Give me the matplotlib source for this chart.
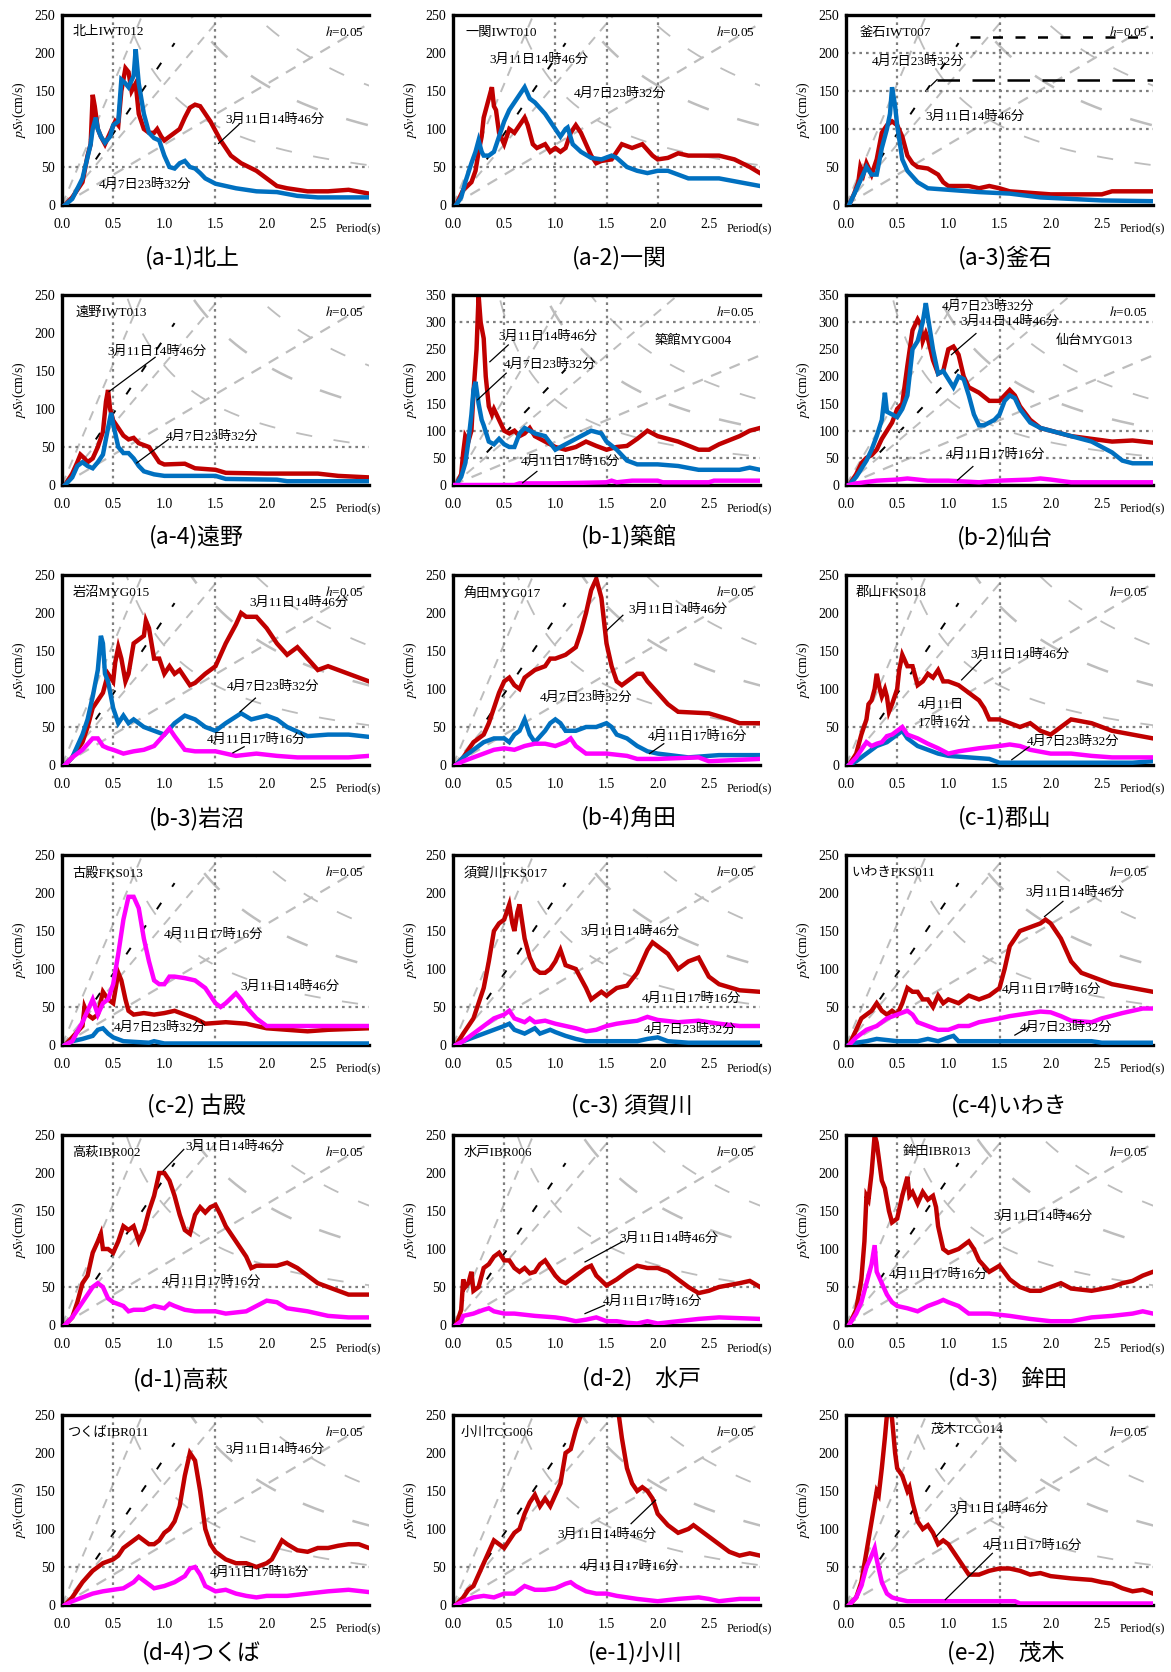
import matplotlib
matplotlib.use("Agg")
import matplotlib.pyplot as plt
import numpy as np

plt.rcParams['mathtext.fontset'] = 'stix'
SERIF = ['Liberation Serif', 'Noto Sans CJK JP']
CJK = ['Noto Sans CJK JP', 'Liberation Serif']

RED = '#C00000'; BLUE = '#0070C0'; MAG = '#FF00FF'
EV311 = '3月11日14時46分'; EV407 = '4月7日23時32分'; EV411 = '4月11日17時16分'

# ---------------- data (period s, pSv cm/s) ----------------
a1_t_r = [0.03,0.1,0.2,0.25,0.28,0.3,0.32,0.35,0.38,0.42,0.47,0.52,0.55,0.58,0.62,0.65,0.68,0.72,0.75,0.8,0.85,0.9,0.93,0.97,1.0,1.05,1.1,1.15,1.2,1.25,1.3,1.35,1.45,1.55,1.65,1.75,1.9,2.0,2.1,2.2,2.4,2.6,2.8,3.0]
a1_v_r = [0,10,30,65,80,145,130,100,90,80,95,110,105,150,180,175,150,160,120,100,95,95,100,90,85,90,95,100,115,128,132,130,110,85,65,55,45,35,25,22,18,18,20,15]
a1_t_b = [0.03,0.1,0.2,0.28,0.3,0.33,0.35,0.38,0.42,0.47,0.5,0.55,0.58,0.62,0.65,0.7,0.72,0.75,0.8,0.85,0.9,0.95,1.0,1.05,1.1,1.15,1.2,1.25,1.3,1.35,1.4,1.5,1.7,1.9,2.1,2.3,2.5,3.0]
a1_v_b = [0,8,35,80,100,115,100,90,82,90,105,110,165,160,155,170,205,160,120,95,88,85,65,50,48,55,58,50,48,42,35,28,22,18,17,12,10,10]

a2_t_r = [0.03,0.1,0.18,0.22,0.25,0.28,0.3,0.35,0.38,0.4,0.42,0.45,0.5,0.55,0.6,0.65,0.7,0.73,0.78,0.82,0.9,0.95,1.0,1.05,1.1,1.15,1.2,1.25,1.3,1.35,1.4,1.45,1.55,1.6,1.65,1.75,1.85,1.95,2.0,2.1,2.2,2.3,2.6,2.75,2.9,3.0]
a2_v_r = [0,20,30,45,70,90,115,140,155,130,125,95,80,100,95,105,115,105,80,75,80,70,75,70,75,95,105,95,80,65,55,58,60,70,80,75,80,65,60,62,68,65,65,60,50,42]
a2_t_b = [0.03,0.08,0.12,0.18,0.22,0.25,0.28,0.3,0.35,0.4,0.45,0.5,0.55,0.6,0.65,0.7,0.75,0.8,0.9,1.0,1.05,1.1,1.12,1.17,1.25,1.35,1.45,1.55,1.6,1.7,1.8,1.9,2.0,2.1,2.2,2.3,2.6,2.8,3.0]
a2_v_b = [0,10,30,55,70,85,70,65,65,70,90,110,125,135,145,155,140,135,120,100,90,100,102,80,70,62,60,65,62,50,45,42,45,45,40,35,35,30,25]

a3_t_r = [0.03,0.08,0.12,0.14,0.17,0.2,0.25,0.3,0.35,0.4,0.45,0.5,0.55,0.6,0.65,0.7,0.8,0.9,0.95,1.0,1.2,1.3,1.4,1.5,1.6,1.8,2.0,2.5,2.6,3.0]
a3_v_r = [0,15,30,50,40,55,40,60,95,105,110,105,90,65,55,50,48,40,30,25,25,22,25,22,18,16,14,14,18,18]
a3_t_b = [0.03,0.1,0.15,0.2,0.25,0.3,0.35,0.4,0.43,0.45,0.48,0.5,0.55,0.6,0.7,0.8,1.0,1.3,1.6,1.9,2.5,3.0]
a3_v_b = [0,20,35,50,40,40,75,100,120,155,130,105,60,45,30,22,20,17,15,10,6,5]

a4_t_r = [0.03,0.1,0.15,0.18,0.22,0.25,0.3,0.35,0.4,0.43,0.45,0.47,0.5,0.55,0.6,0.65,0.7,0.75,0.85,0.9,0.95,1.0,1.2,1.3,1.5,1.6,2.0,2.5,2.7,3.0]
a4_v_r = [0,15,30,40,35,30,35,50,70,110,125,100,85,75,65,60,62,55,50,40,30,27,28,22,20,16,15,15,12,10]
a4_t_b = [0.03,0.1,0.15,0.2,0.25,0.3,0.35,0.4,0.45,0.48,0.5,0.55,0.6,0.65,0.7,0.75,0.8,0.9,1.0,1.2,1.5,1.6,2.1,2.2,3.0]
a4_v_b = [0,10,25,30,25,22,30,40,75,95,80,50,42,42,35,25,18,14,12,12,12,8,7,5,5]

b1_t_r = [0.03,0.08,0.1,0.12,0.15,0.18,0.2,0.23,0.25,0.27,0.3,0.32,0.35,0.38,0.4,0.45,0.5,0.55,0.6,0.65,0.7,0.75,0.8,0.85,0.9,1.0,1.1,1.2,1.3,1.4,1.5,1.6,1.7,1.8,1.9,2.0,2.2,2.4,2.5,2.6,2.8,2.9,3.0]
b1_v_r = [0,20,60,90,80,100,170,250,350,300,270,200,145,130,140,120,100,95,100,90,95,105,90,85,80,70,65,70,80,72,65,70,72,85,100,90,80,65,65,75,90,100,105]
b1_t_b = [0.03,0.08,0.12,0.15,0.18,0.2,0.22,0.25,0.28,0.3,0.35,0.4,0.45,0.5,0.55,0.6,0.65,0.7,0.75,0.8,0.9,1.0,1.1,1.2,1.3,1.35,1.45,1.5,1.6,1.7,1.8,2.0,2.2,2.4,2.8,2.9,3.0]
b1_v_b = [0,15,40,80,130,175,190,150,120,110,80,75,85,75,70,70,95,105,100,95,90,65,75,85,95,100,95,80,65,45,38,38,35,28,28,32,28]
b1_t_m = [0.0,0.6,0.65,1.0,1.5,1.55,1.6,1.75,2.0,2.05,2.5,2.55,3.0]
b1_v_m = [0,0,3,3,5,8,5,8,8,5,5,8,8]

b2_t_r = [0.03,0.1,0.15,0.2,0.25,0.3,0.35,0.4,0.45,0.5,0.55,0.6,0.65,0.7,0.73,0.75,0.78,0.8,0.85,0.9,0.95,1.0,1.05,1.1,1.15,1.2,1.3,1.4,1.5,1.55,1.6,1.65,1.7,1.8,1.9,2.0,2.2,2.4,2.6,2.8,3.0]
b2_v_r = [0,20,40,50,55,65,85,100,115,140,150,220,285,305,295,265,280,270,230,205,210,250,255,240,200,180,170,155,155,165,175,165,145,120,105,100,90,85,80,82,78]
b2_t_b = [0.03,0.1,0.2,0.25,0.3,0.35,0.38,0.4,0.45,0.5,0.55,0.6,0.65,0.7,0.75,0.78,0.8,0.85,0.9,0.95,1.0,1.05,1.1,1.15,1.2,1.25,1.3,1.35,1.45,1.5,1.55,1.6,1.65,1.7,1.8,1.9,2.0,2.2,2.4,2.6,2.7,2.8,3.0]
b2_v_b = [0,15,45,65,90,120,170,135,130,125,140,165,250,265,300,335,310,250,205,210,195,180,200,195,165,130,110,110,120,130,155,165,160,140,115,105,100,90,80,60,45,40,40]
b2_t_m = [0.03,0.1,0.3,0.5,0.6,0.8,1.0,1.3,1.5,1.8,1.9,2.0,2.2,3.0]
b2_v_m = [0,3,8,10,12,8,8,5,8,10,12,10,5,5]

b3_t_r = [0.03,0.1,0.15,0.2,0.25,0.3,0.35,0.4,0.45,0.5,0.52,0.55,0.58,0.62,0.65,0.7,0.75,0.8,0.82,0.85,0.9,0.95,1.0,1.05,1.1,1.15,1.2,1.25,1.3,1.4,1.5,1.6,1.7,1.75,1.8,1.9,2.0,2.1,2.2,2.3,2.4,2.5,2.6,2.7,2.8,3.0]
b3_v_r = [0,10,20,30,50,75,85,95,120,110,135,155,140,110,120,160,165,170,190,180,140,140,120,130,120,125,115,105,108,120,130,160,185,200,195,195,180,160,145,155,140,125,130,125,120,110]
b3_t_b = [0.03,0.1,0.2,0.25,0.3,0.35,0.38,0.4,0.42,0.45,0.5,0.55,0.6,0.65,0.7,0.8,0.9,1.0,1.1,1.2,1.3,1.4,1.5,1.6,1.75,1.85,2.0,2.1,2.2,2.4,2.6,2.8,3.0]
b3_v_b = [0,10,40,60,90,125,170,160,120,110,75,55,65,55,60,50,45,40,55,65,60,50,45,55,68,60,65,60,50,38,40,40,37]
b3_t_m = [0.03,0.1,0.2,0.3,0.35,0.4,0.45,0.5,0.6,0.7,0.8,0.9,1.0,1.05,1.1,1.2,1.3,1.5,1.7,1.9,2.1,2.3,2.8,3.0]
b3_v_m = [0,10,20,35,35,25,22,20,15,18,20,25,40,48,38,20,18,18,12,15,12,10,10,12]

b4_t_r = [0.03,0.1,0.2,0.3,0.35,0.4,0.45,0.5,0.55,0.6,0.65,0.7,0.75,0.8,0.9,0.95,1.0,1.1,1.2,1.25,1.3,1.35,1.4,1.45,1.5,1.55,1.6,1.65,1.7,1.8,1.85,1.9,2.0,2.1,2.2,2.5,2.7,2.8,3.0]
b4_v_r = [0,10,30,40,55,75,95,110,115,105,100,115,120,125,130,140,140,145,155,175,200,230,245,220,160,130,110,105,110,120,120,110,95,80,70,68,60,55,55]
b4_t_b = [0.03,0.1,0.2,0.3,0.4,0.5,0.55,0.6,0.65,0.7,0.75,0.8,0.9,0.95,1.0,1.05,1.1,1.2,1.3,1.4,1.5,1.55,1.6,1.7,1.8,1.9,2.0,2.3,2.6,3.0]
b4_v_b = [0,10,20,30,35,35,30,40,45,60,40,30,45,55,60,55,45,45,50,50,55,50,40,35,25,18,15,10,13,13]
b4_t_m = [0.03,0.1,0.2,0.3,0.4,0.5,0.6,0.7,0.8,0.9,1.0,1.1,1.15,1.2,1.3,1.5,1.7,1.8,2.0,2.4,2.5,3.0]
b4_v_m = [0,5,10,15,20,22,20,25,28,28,25,30,35,25,15,15,12,8,8,10,5,8]

c1_t_r = [0.03,0.1,0.15,0.2,0.22,0.25,0.28,0.3,0.33,0.35,0.38,0.4,0.42,0.45,0.5,0.52,0.55,0.6,0.65,0.7,0.75,0.8,0.85,0.9,0.95,1.0,1.1,1.2,1.3,1.35,1.4,1.5,1.6,1.7,1.8,1.9,2.0,2.1,2.2,2.4,2.5,2.6,2.8,3.0]
c1_v_r = [0,15,40,60,80,85,100,120,100,90,100,90,70,80,100,125,145,130,130,105,110,120,115,125,110,110,105,95,85,75,60,60,55,50,55,45,40,50,60,55,50,45,40,35]
c1_t_b = [0.03,0.1,0.2,0.3,0.4,0.5,0.55,0.6,0.7,0.8,0.9,1.0,1.2,1.4,1.5,2.0,2.5,2.8,3.0]
c1_v_b = [0,5,15,25,30,40,45,35,25,20,15,12,10,8,3,3,3,3,5]
c1_t_m = [0.03,0.1,0.15,0.2,0.25,0.3,0.35,0.4,0.45,0.5,0.55,0.6,0.7,0.8,0.9,1.0,1.1,1.2,1.3,1.5,1.6,1.7,1.8,2.0,2.2,2.4,2.6,3.0]
c1_v_m = [0,10,20,30,25,28,30,38,40,45,50,40,35,28,22,15,18,20,22,25,27,25,20,15,15,12,10,10]

c2_t_m = [0.03,0.1,0.2,0.25,0.3,0.35,0.4,0.45,0.5,0.55,0.6,0.65,0.7,0.75,0.8,0.85,0.9,0.95,1.0,1.05,1.1,1.2,1.3,1.4,1.5,1.55,1.6,1.7,1.75,1.8,1.9,2.0,2.2,2.6,3.0]
c2_v_m = [0,5,30,45,60,40,55,60,80,120,165,195,195,180,140,110,85,80,80,90,90,88,85,75,55,50,55,68,60,50,35,25,25,25,25]
c2_t_r = [0.03,0.1,0.2,0.22,0.25,0.3,0.35,0.4,0.45,0.5,0.55,0.58,0.62,0.65,0.7,0.8,0.9,1.0,1.1,1.2,1.3,1.4,1.6,1.8,2.0,2.2,2.4,2.6,3.0]
c2_v_r = [0,10,25,50,40,35,40,70,60,55,95,85,60,45,40,42,40,42,45,40,35,28,30,28,22,20,18,20,22]
c2_t_b = [0.03,0.1,0.2,0.3,0.35,0.4,0.45,0.5,0.6,0.85,0.9,1.0,3.0]
c2_v_b = [0,5,8,12,20,22,15,10,5,3,5,2,2]

c3_t_r = [0.03,0.1,0.2,0.25,0.3,0.35,0.4,0.45,0.5,0.55,0.58,0.6,0.63,0.65,0.7,0.75,0.8,0.85,0.9,0.95,1.0,1.05,1.1,1.2,1.3,1.35,1.4,1.45,1.5,1.6,1.7,1.8,1.9,1.95,2.0,2.1,2.2,2.3,2.4,2.5,2.6,2.8,3.0]
c3_v_r = [0,15,35,55,75,110,150,160,165,185,160,150,175,185,140,115,100,95,95,100,110,125,105,100,75,60,65,70,65,75,78,95,125,135,130,120,100,110,115,90,80,72,70]
c3_t_m = [0.03,0.1,0.2,0.3,0.4,0.5,0.55,0.6,0.7,0.75,0.8,0.9,1.0,1.1,1.2,1.3,1.4,1.5,1.6,1.7,1.8,1.9,2.0,2.2,2.4,2.6,2.8,3.0]
c3_v_m = [0,5,15,25,35,40,45,35,30,35,30,32,28,25,22,18,20,25,28,30,32,37,33,30,32,28,25,25]
c3_t_b = [0.03,0.1,0.2,0.3,0.4,0.5,0.55,0.6,0.7,0.8,0.85,0.95,1.0,1.1,1.2,1.3,1.5,1.8,1.9,2.0,2.1,2.3,3.0]
c3_v_b = [0,5,10,15,20,25,28,20,15,22,15,20,17,12,8,5,5,5,8,10,5,3,3]

c4_t_r = [0.03,0.1,0.15,0.2,0.25,0.3,0.35,0.4,0.45,0.5,0.55,0.6,0.65,0.7,0.75,0.8,0.85,0.9,0.95,1.0,1.1,1.15,1.2,1.3,1.4,1.5,1.55,1.6,1.7,1.8,1.9,1.95,2.0,2.1,2.2,2.3,2.4,2.5,2.6,2.8,3.0]
c4_v_r = [0,20,35,40,45,55,45,40,45,40,55,75,70,70,60,60,50,65,55,60,55,60,65,60,65,75,100,130,150,155,160,165,160,140,110,95,90,85,80,75,70]
c4_t_m = [0.03,0.1,0.2,0.3,0.4,0.5,0.6,0.65,0.7,0.8,0.9,1.0,1.1,1.2,1.3,1.5,1.6,1.7,1.8,1.9,2.0,2.1,2.2,2.4,2.5,2.7,2.9,3.0]
c4_v_m = [0,10,20,25,35,40,45,40,30,25,20,20,25,25,30,35,38,40,42,44,43,38,32,30,35,42,48,48]
c4_t_b = [0.03,0.1,0.2,0.3,0.5,0.7,0.8,0.9,1.0,1.05,1.1,1.5,2.4,2.5,3.0]
c4_v_b = [0,3,5,8,5,5,8,5,10,12,5,5,5,3,3]

d1_t_r = [0.03,0.1,0.15,0.2,0.25,0.3,0.35,0.38,0.4,0.45,0.5,0.55,0.6,0.65,0.7,0.75,0.8,0.85,0.9,0.95,1.0,1.05,1.1,1.15,1.2,1.25,1.3,1.35,1.4,1.45,1.5,1.55,1.6,1.7,1.8,1.85,1.9,2.0,2.1,2.2,2.3,2.4,2.5,2.6,2.7,2.8,3.0]
d1_v_r = [0,10,30,55,65,95,110,120,100,100,95,110,130,125,130,110,125,150,170,200,200,190,170,145,125,120,145,155,148,155,158,145,130,110,90,75,78,78,78,82,75,65,55,50,45,40,40]
d1_t_m = [0.03,0.1,0.2,0.3,0.35,0.4,0.45,0.5,0.6,0.65,0.7,0.8,0.9,1.0,1.05,1.1,1.2,1.3,1.5,1.6,1.8,1.9,2.0,2.1,2.2,2.4,2.6,2.8,3.0]
d1_v_m = [0,10,30,50,55,50,35,30,25,18,20,20,25,22,28,25,20,18,18,15,18,25,32,30,22,18,12,10,10]

d2_t_r = [0.03,0.08,0.1,0.12,0.15,0.18,0.2,0.25,0.3,0.35,0.4,0.45,0.5,0.55,0.6,0.65,0.7,0.75,0.8,0.85,0.9,0.95,1.0,1.05,1.1,1.2,1.3,1.35,1.4,1.5,1.6,1.7,1.8,1.9,2.0,2.1,2.2,2.3,2.4,2.5,2.6,2.8,2.9,3.0]
d2_v_r = [0,20,60,50,55,70,45,50,75,80,90,95,85,85,75,70,75,68,70,80,85,75,65,58,55,65,75,78,65,52,60,70,78,75,75,70,60,50,42,45,50,55,58,50]
d2_t_m = [0.03,0.08,0.1,0.2,0.3,0.35,0.4,0.5,0.6,0.8,1.0,1.1,1.2,1.3,1.4,1.5,1.6,1.7,1.8,1.9,2.0,2.2,2.4,2.6,3.0]
d2_v_m = [0,5,12,15,20,22,18,15,15,12,10,8,5,7,10,5,5,3,2,5,2,5,8,10,8]

d3_t_r = [0.03,0.1,0.15,0.18,0.2,0.22,0.25,0.28,0.3,0.35,0.38,0.42,0.45,0.5,0.55,0.58,0.6,0.62,0.65,0.7,0.75,0.8,0.85,0.88,0.9,0.95,1.0,1.1,1.2,1.25,1.3,1.4,1.5,1.6,1.7,1.8,1.9,2.0,2.1,2.2,2.4,2.6,2.7,2.8,2.9,3.0]
d3_v_r = [0,20,60,110,170,165,200,250,240,190,180,150,135,140,170,185,195,170,175,160,175,165,170,155,130,100,95,100,110,100,85,70,78,60,50,45,45,50,55,48,45,50,55,58,65,70]
d3_t_m = [0.03,0.1,0.15,0.2,0.25,0.28,0.3,0.35,0.4,0.45,0.5,0.6,0.7,0.8,0.9,0.95,1.0,1.1,1.2,1.4,1.6,1.8,2.0,2.2,2.4,2.6,2.8,2.9,3.0]
d3_v_m = [0,15,30,55,80,105,70,55,40,30,25,22,18,25,30,33,30,25,15,15,12,8,5,5,10,12,15,18,15]

d4_t_r = [0.03,0.1,0.15,0.2,0.3,0.35,0.4,0.5,0.55,0.6,0.7,0.75,0.8,0.85,0.9,0.95,1.0,1.05,1.1,1.15,1.2,1.25,1.3,1.35,1.4,1.45,1.5,1.6,1.7,1.8,1.9,2.0,2.05,2.15,2.2,2.3,2.4,2.5,2.6,2.7,2.8,2.9,3.0]
d4_v_r = [0,10,20,30,45,50,55,60,65,75,85,90,85,80,80,85,95,100,110,130,170,200,190,150,100,80,70,60,55,55,50,55,60,85,80,72,70,75,75,78,80,80,75]
d4_t_m = [0.03,0.1,0.2,0.3,0.4,0.5,0.6,0.7,0.75,0.8,0.9,1.0,1.1,1.2,1.25,1.3,1.35,1.4,1.5,1.6,1.7,1.8,1.9,2.0,2.2,2.4,2.6,2.8,3.0]
d4_v_m = [0,5,10,15,18,20,22,30,37,32,22,25,30,38,48,50,40,25,18,20,15,12,10,12,12,15,18,20,17]

e1_t_r = [0.03,0.1,0.15,0.2,0.25,0.3,0.35,0.4,0.45,0.5,0.55,0.6,0.65,0.7,0.75,0.8,0.85,0.9,0.95,1.0,1.05,1.1,1.15,1.2,1.25,1.35,1.45,1.55,1.62,1.65,1.7,1.75,1.8,1.85,1.9,1.95,2.0,2.1,2.2,2.3,2.35,2.4,2.5,2.6,2.7,2.8,2.9,3.0]
e1_v_r = [0,10,20,25,40,55,70,85,80,75,85,95,100,120,135,145,130,140,130,145,160,200,205,230,250,300,320,290,250,220,180,160,150,155,150,140,120,105,95,100,105,100,90,80,70,65,68,65]
e1_t_m = [0.03,0.1,0.2,0.3,0.4,0.5,0.6,0.7,0.8,0.9,1.0,1.1,1.15,1.2,1.3,1.4,1.5,1.6,1.7,1.8,2.0,2.2,2.4,2.5,2.6,2.8,3.0]
e1_v_m = [0,5,10,12,10,15,15,25,20,20,22,28,30,25,18,15,15,12,10,8,5,8,10,8,5,8,8]

e2_t_r = [0.03,0.1,0.15,0.2,0.25,0.3,0.32,0.35,0.38,0.4,0.42,0.45,0.48,0.5,0.55,0.6,0.62,0.65,0.7,0.75,0.8,0.85,0.9,0.95,1.0,1.05,1.1,1.2,1.3,1.4,1.5,1.6,1.7,1.8,1.9,2.0,2.2,2.4,2.5,2.6,2.7,2.8,2.9,3.0]
e2_v_r = [0,10,30,70,110,150,145,180,220,250,260,245,200,180,170,150,155,135,110,100,105,95,80,85,80,70,60,40,40,45,48,48,45,40,42,38,35,33,30,28,22,18,20,15]
e2_t_m = [0.03,0.1,0.15,0.2,0.25,0.28,0.3,0.35,0.4,0.45,0.5,0.6,0.8,1.0,1.5,1.65,1.7,3.0]
e2_v_m = [0,10,25,50,65,75,60,30,15,10,8,5,5,5,5,5,2,2]

# ---------------- panel descriptions ----------------
captions = ['(a-1)北上', '(a-2)一関', '(a-3)釜石', '(a-4)遠野', '(b-1)築館', '(b-2)仙台',
            '(b-3)岩沼', '(b-4)角田', '(c-1)郡山', '(c-2) 古殿', '(c-3) 須賀川', '(c-4)いわき',
            '(d-1)高萩', '(d-2)　水戸', '(d-3)　鉾田', '(d-4)つくば', '(e-1)小川', '(e-2)　茂木']
stations = ['北上IWT012', '一関IWT010', '釜石IWT007', '遠野IWT013', '築館MYG004', '仙台MYG013',
            '岩沼MYG015', '角田MYG017', '郡山FKS018', '古殿FKS013', '須賀川FKS017', 'いわきFKS011',
            '高萩IBR002', '水戸IBR006', '鉾田IBR013', 'つくばIBR011', '小川TCG006', '茂木TCG014']
ymaxes = [250, 250, 250, 250, 350, 350] + [250] * 12

series = [
    [(a1_t_r, a1_v_r, RED), (a1_t_b, a1_v_b, BLUE)],
    [(a2_t_r, a2_v_r, RED), (a2_t_b, a2_v_b, BLUE)],
    [(a3_t_r, a3_v_r, RED), (a3_t_b, a3_v_b, BLUE)],
    [(a4_t_r, a4_v_r, RED), (a4_t_b, a4_v_b, BLUE)],
    [(b1_t_r, b1_v_r, RED), (b1_t_b, b1_v_b, BLUE), (b1_t_m, b1_v_m, MAG)],
    [(b2_t_r, b2_v_r, RED), (b2_t_b, b2_v_b, BLUE), (b2_t_m, b2_v_m, MAG)],
    [(b3_t_r, b3_v_r, RED), (b3_t_b, b3_v_b, BLUE), (b3_t_m, b3_v_m, MAG)],
    [(b4_t_r, b4_v_r, RED), (b4_t_b, b4_v_b, BLUE), (b4_t_m, b4_v_m, MAG)],
    [(c1_t_r, c1_v_r, RED), (c1_t_b, c1_v_b, BLUE), (c1_t_m, c1_v_m, MAG)],
    [(c2_t_r, c2_v_r, RED), (c2_t_b, c2_v_b, BLUE), (c2_t_m, c2_v_m, MAG)],
    [(c3_t_r, c3_v_r, RED), (c3_t_b, c3_v_b, BLUE), (c3_t_m, c3_v_m, MAG)],
    [(c4_t_r, c4_v_r, RED), (c4_t_b, c4_v_b, BLUE), (c4_t_m, c4_v_m, MAG)],
    [(d1_t_r, d1_v_r, RED), (d1_t_m, d1_v_m, MAG)],
    [(d2_t_r, d2_v_r, RED), (d2_t_m, d2_v_m, MAG)],
    [(d3_t_r, d3_v_r, RED), (d3_t_m, d3_v_m, MAG)],
    [(d4_t_r, d4_v_r, RED), (d4_t_m, d4_v_m, MAG)],
    [(e1_t_r, e1_v_r, RED), (e1_t_m, e1_v_m, MAG)],
    [(e2_t_r, e2_v_r, RED), (e2_t_m, e2_v_m, MAG)],
]

vgrid = [[0.5, 1.5], [1.0, 1.5, 2.0], [0.5, 1.5]] + [[0.5, 1.5]] * 15
hgrid = [[50], [50], [100, 150, 200], [50], [50, 100, 300], [50, 100, 300]] + [[50]] * 12

# station label positions (x, y)
st_pos = [(0.1, 228), (0.12, 226), (0.13, 226), (0.13, 226), (1.97, 265), (2.05, 265),
          (0.1, 226), (0.1, 226), (0.1, 226), (0.1, 226), (0.1, 226), (0.05, 226),
          (0.1, 226), (0.1, 226), (0.55, 228), (0.05, 226), (0.07, 226), (0.83, 230)]

# annotations: (text, x, y, leader or None)
annots = [
    [(EV311, 1.6, 112, [(1.53, 81), (1.73, 106)]), (EV407, 0.36, 26, None)],
    [(EV311, 0.36, 191, None), (EV407, 1.18, 146, None)],
    [(EV407, 0.25, 189, None), (EV311, 0.78, 116, None)],
    [(EV311, 0.44, 175, [(0.46, 123), (0.91, 168)]), (EV407, 1.01, 64, [(0.73, 29), (1.04, 60)])],
    [(EV311, 0.44, 273, [(0.36, 227), (0.54, 258)]), (EV407, 0.5, 221, [(0.24, 157), (0.52, 206)]),
     (EV411, 0.66, 42, [(0.68, 4), (0.82, 25)])],
    [(EV407, 0.94, 328, None), (EV311, 1.12, 300, [(1.03, 240), (1.27, 279)]),
     (EV411, 0.97, 55, [(1.09, 9), (1.24, 34)])],
    [(EV311, 1.83, 213, None), (EV407, 1.61, 103, [(1.74, 70), (1.89, 88)]),
     (EV411, 1.41, 33, [(1.67, 16), (1.78, 24)])],
    [(EV311, 1.71, 204, [(1.51, 178), (1.66, 197)]), (EV407, 0.85, 88, None),
     (EV411, 1.9, 37, [(1.92, 15), (2.06, 28)])],
    [(EV311, 1.22, 145, [(1.13, 112), (1.32, 138)]), ('4月11日', 0.7, 79, None), ('17時16分', 0.7, 55, None),
     (EV407, 1.77, 31, [(1.62, 7), (1.79, 24)])],
    [(EV411, 0.99, 145, None), (EV311, 1.74, 77, None), (EV407, 0.51, 22, None)],
    [(EV311, 1.24, 149, None), (EV411, 1.84, 61, None), (EV407, 1.86, 20, None)],
    [(EV311, 1.75, 200, [(1.94, 169), (2.12, 189)]), (EV411, 1.52, 72, None),
     (EV407, 1.7, 22, [(1.65, 13), (1.79, 24)])],
    [(EV311, 1.21, 235, [(0.99, 203), (1.19, 231)]), (EV411, 0.97, 57, None)],
    [(EV311, 1.63, 114, [(1.29, 83), (1.66, 110)]), (EV411, 1.46, 31, [(1.29, 15), (1.48, 26)])],
    [(EV311, 1.44, 143, None), (EV411, 0.42, 66, None)],
    [(EV311, 1.6, 204, None), (EV411, 1.44, 42, None)],
    [(EV311, 1.02, 92, [(1.74, 107), (1.98, 138)]), (EV411, 1.24, 50, None)],
    [(EV311, 1.01, 127, [(0.88, 90), (1.09, 121)]), (EV411, 1.34, 78, [(0.97, 7), (1.43, 68)])],
]

cap_x = [192, 619, 1005, 196, 629, 1005, 197, 629, 1005, 196, 632, 1009, 181, 642, 1008, 201, 635, 1006]
cap_y = [258, 537, 818, 1106, 1379, 1653]

# ---------------- figure ----------------
W, H = 1171, 1672
fig = plt.figure(figsize=(W / 100, H / 100), dpi=100)
lefts = [62, 453, 846]
tops = [15, 295, 575, 855, 1135, 1415]
aw, ah = 307, 190
GRAY = '#BDBDBD'

for i in range(18):
    r, c = divmod(i, 3)
    ax = fig.add_axes([lefts[c] / W, 1 - (tops[r] + ah) / H, aw / W, ah / H])
    ymax = ymaxes[i]
    ax.set_xlim(0, 3.0)
    ax.set_ylim(0, ymax)

    # tripartite background lines
    T = np.linspace(0.001, 3.05, 500)
    for sa, lw in [(500, 1.6), (1000, 1.4), (2000, 1.4)]:
        ax.plot(T, sa * T / (2 * np.pi), color=GRAY, lw=lw, dashes=(5, 4), zorder=1)
    for sd, lw in [(25, 1.3), (50, 1.8), (75, 1.3)]:
        ax.plot(T, 2 * np.pi * sd / T, color=GRAY, lw=lw, dashes=(9, 12), zorder=1)
    ax.plot([0.33, 1.1], [60, 213], color='black', lw=1.4, dashes=(4, 10), zorder=1.5)

    for xv in vgrid[i]:
        ax.axvline(xv, color='#7F7F7F', lw=1.6, ls=(0, (1.2, 1.8)), zorder=2)
    for yv in hgrid[i]:
        ax.axhline(yv, color='#7F7F7F', lw=1.6, ls=(0, (1.2, 1.8)), zorder=2)

    if i == 2:
        ax.plot([1.21, 3.0], [221, 221], color='black', lw=1.8, dashes=(4, 5), zorder=3)
        ax.plot([0.89, 3.0], [165, 165], color='black', lw=1.8, dashes=(9, 5), zorder=3)
        ax.plot([0.83, 0.89], [157, 165], color='black', lw=0.9, zorder=3)

    for k, (tt, vv, col) in enumerate(series[i]):
        ax.plot(tt, vv, color=col, lw=3.2, zorder=4 + k, solid_joinstyle='miter')

    # frame
    for s in ['left', 'top', 'bottom']:
        ax.spines[s].set_linewidth(2.4)
        ax.spines[s].set_color('black')
    ax.spines['right'].set_visible(False)
    ax.spines['top'].set_zorder(10)

    ax.set_xticks([0, 0.5, 1.0, 1.5, 2.0, 2.5])
    ax.set_xticklabels(['0.0', '0.5', '1.0', '1.5', '2.0', '2.5'])
    ax.set_yticks(np.arange(0, ymax + 1, 50))
    ax.tick_params(length=0, labelsize=10, pad=5)
    ax.tick_params(axis='x', pad=9)
    for lab in ax.get_xticklabels() + ax.get_yticklabels():
        lab.set_family(SERIF)
    ax.text(1.04, -0.12, 'Period(s)', transform=ax.transAxes, ha='right', va='center',
            fontsize=9, family=SERIF)
    ax.set_ylabel(r'$pSv$(cm/s)', fontsize=10, family=SERIF)
    ax.yaxis.set_label_coords(-0.11, 0.5)

    sx, sy = st_pos[i]
    ax.text(sx, sy * ymax / 250 if ymax == 250 else sy, stations[i], fontsize=9.5, family=SERIF,
            va='center', ha='left', zorder=12)
    ax.text(2.95, 228 * ymax / 250, r'$h$=0.05', fontsize=9.5, family=SERIF, va='center', ha='right', zorder=12)

    for (txt, tx, ty, lead) in annots[i]:
        ax.text(tx, ty, txt, fontsize=9.5, family=SERIF, va='center', ha='left', zorder=12)
        if lead is not None:
            ax.plot([lead[0][0], lead[1][0]], [lead[0][1], lead[1][1]], color='black', lw=0.9, zorder=11)

    fig.text(cap_x[i] / W, 1 - cap_y[r] / H, captions[i], fontsize=16.5, family=CJK,
             ha='center', va='center')

fig.savefig('out.png', dpi=100)
